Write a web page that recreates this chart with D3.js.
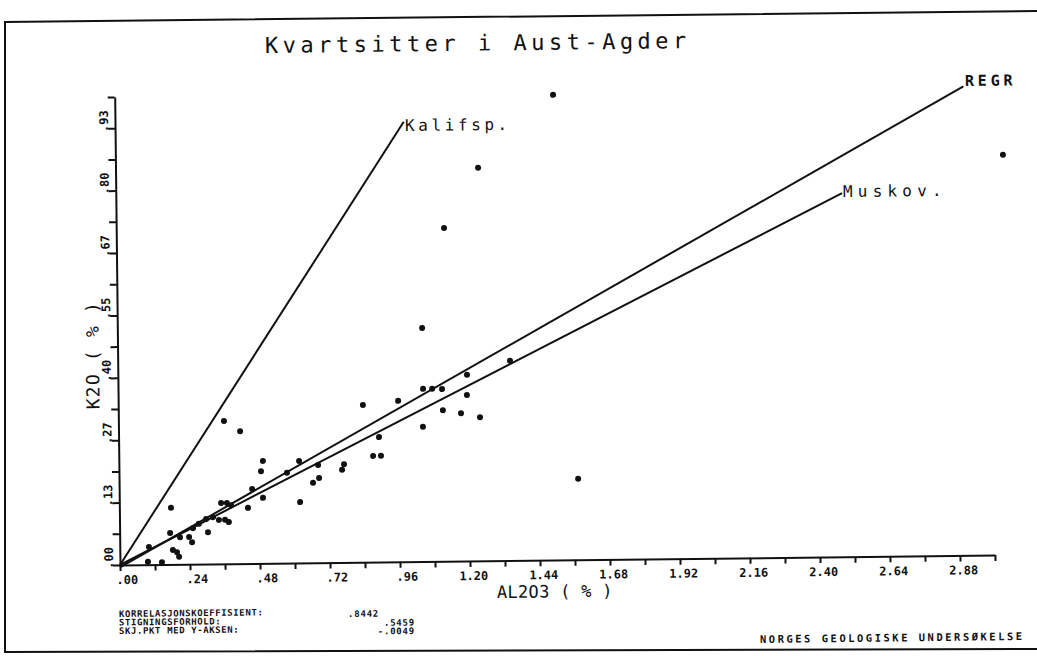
<!DOCTYPE html>
<html>
<head>
<meta charset="utf-8">
<script src="https://cdn.jsdelivr.net/npm/d3@7"></script>
<style>
  body { margin: 0; background: #fff; }
  text { font-family: "DejaVu Sans Mono", "Liberation Mono", monospace; fill: #111; }
</style>
</head>
<body>
<svg id="chart" width="1037" height="656"></svg>
<script>
// Al2O3 (%) and K2O (%) of each sample
const al2o3 = [1.503, 3.043, 1.243, 1.124, 1.045, 1.574, 1.345, 0.362, 0.417, 0.839,
  0.960, 0.893, 0.872, 0.899, 0.494, 0.487, 0.618, 0.683, 0.772, 0.765,
  0.576, 0.686, 0.665, 0.620, 0.456, 0.493, 0.441, 0.349, 0.369, 0.383,
  0.375, 0.303, 0.341, 0.362, 0.177, 0.252, 0.297, 0.272, 0.321, 0.207,
  0.238, 0.248, 0.173, 0.100, 0.182, 0.196, 0.203, 0.096, 0.144, 1.046,
  1.077, 1.111, 1.197, 1.196, 1.113, 1.175, 1.240, 1.044];
const k2o = [0.994, 0.855, 0.840, 0.712, 0.499, 0.173, 0.427, 0.305, 0.283, 0.336,
  0.344, 0.267, 0.227, 0.227, 0.219, 0.197, 0.218, 0.209, 0.210, 0.198,
  0.193, 0.181, 0.171, 0.130, 0.159, 0.140, 0.119, 0.130, 0.130, 0.125,
  0.089, 0.068, 0.094, 0.094, 0.121, 0.077, 0.096, 0.086, 0.100, 0.058,
  0.058, 0.047, 0.067, 0.038, 0.031, 0.026, 0.016, 0.006, 0.005, 0.369,
  0.369, 0.368, 0.398, 0.355, 0.323, 0.316, 0.307, 0.288];

// reference lines (end points in data units)
const kalifspEnd = [0.99, 0.94];
const muskovEnd = [2.49, 0.777];
const regrSlope = 0.346;      // as drawn
const regrIntercept = -0.0049;
const regrEndX = 2.91;

const xTickValues = [0, 0.24, 0.48, 0.72, 0.96, 1.20, 1.44, 1.68, 1.92, 2.16, 2.40, 2.64, 2.88];
const xTickLabels = [".00", ".24", ".48", ".72", ".96", "1.20", "1.44", "1.68", "1.92", "2.16", "2.40", "2.64", "2.88"];
const yTickValues = [0, 0.1333, 0.2667, 0.40, 0.5333, 0.6667, 0.80, 0.9333];
const yTickLabels = [".00", ".13", ".27", ".40", ".55", ".67", ".80", ".93"];

const statLabels = ["KORRELASJONSKOEFFISIENT:", "STIGNINGSFORHOLD:", "SKJ.PKT MED Y-AKSEN:"];
const statValues = [".8442", ".5459", "-.0049"];

const svg = d3.select("#chart");
const tilt = -0.65; // the scan is slightly rotated
const ink = "#111";

// frame of the sheet
svg.append("path")
  .attr("d", "M1037,11 L5,22 L5,652 L1037,649")
  .attr("fill", "none").attr("stroke", ink).attr("stroke-width", 2);

const x = d3.scaleLinear().domain([0, 3]).range([120, 995]);
const y = d3.scaleLinear().domain([0, 1]).range([565, 97]);

const g = svg.append("g").attr("transform", `rotate(${tilt},120,565)`);

// axes: major + minor ticks, labels drawn separately
const xAll = xTickValues.concat(xTickValues.map(v => v + 0.12));
const yAll = yTickValues.concat(yTickValues.map(v => v + 0.0667));

const xAxis = g.append("g").attr("transform", "translate(0,565)")
  .call(d3.axisBottom(x).tickValues(xAll).tickSizeInner(6).tickSizeOuter(0).tickFormat(""));
const yAxis = g.append("g").attr("transform", "translate(120,0)")
  .call(d3.axisLeft(y).tickValues(yAll).tickSizeInner(7).tickSizeOuter(0).tickFormat(""));
[xAxis, yAxis].forEach(a => {
  a.selectAll("path, line").attr("stroke", ink).attr("stroke-width", 2);
});

// tick labels: decimal point sits on the tick
const cw = 7.2;
g.selectAll(".xlab").data(xTickValues).join("text")
  .attr("class", "xlab")
  .attr("x", (d, i) => x(d) - (xTickLabels[i].indexOf(".") + 0.5) * cw)
  .attr("y", 584)
  .attr("font-size", 12).attr("font-weight", "bold")
  .text((d, i) => xTickLabels[i]);

g.selectAll(".ylab").data(yTickValues).join("text")
  .attr("class", "ylab")
  .attr("transform", (d, i) => `translate(113,${y(d) + (yTickLabels[i].indexOf(".") + 0.5) * cw}) rotate(-90)`)
  .attr("font-size", 12).attr("font-weight", "bold")
  .text((d, i) => yTickLabels[i]);

// reference lines
const line = d3.line().x(d => x(d[0])).y(d => y(d[1]));
const lines = [
  [[0, 0], kalifspEnd],
  [[0, 0], muskovEnd],
  [[0, regrIntercept], [regrEndX, regrIntercept + regrSlope * regrEndX]]
];
g.selectAll(".ref").data(lines).join("path")
  .attr("class", "ref")
  .attr("d", line)
  .attr("fill", "none").attr("stroke", ink).attr("stroke-width", 2);

// samples
g.selectAll("circle").data(al2o3).join("circle")
  .attr("cx", d => x(d))
  .attr("cy", (d, i) => y(k2o[i]))
  .attr("r", 3)
  .attr("fill", ink);

// texts (placed on screen, tilted with the scan)
function label(sx, sy, str, size, opts = {}) {
  return svg.append("text")
    .attr("transform", `translate(${sx},${sy}) rotate(${tilt + (opts.rot || 0)})`)
    .attr("font-size", size)
    .attr("font-weight", opts.bold ? "bold" : "normal")
    .attr("letter-spacing", opts.ls || 0)
    .attr("text-anchor", opts.anchor || "start")
    .text(str);
}

label(265, 53, "Kvartsitter i Aust-Agder", 22, { ls: 4.5 });
label(405, 131, "Kalifsp.", 16, { ls: 3.6 });
label(843, 197, "Muskov.", 16, { ls: 5.2 });
label(965, 86, "REGR", 15, { bold: true, ls: 3.8 });
label(497, 598, "AL2O3 ( % )", 17, { ls: 0.3 });
label(99, 355, "K2O ( % )", 18, { rot: -90, anchor: "middle", ls: 1.2 });

[617, 625.5, 634].forEach((yy, i) => {
  label(119, yy, statLabels[i], 9, { bold: true, ls: 0.6 });
});
label(348, 617, statValues[0], 9, { bold: true, ls: 0.8 });
label(415, 625.5, statValues[1], 9, { bold: true, ls: 0.8, anchor: "end" });
label(415, 634, statValues[2], 9, { bold: true, ls: 0.8, anchor: "end" });

label(760, 643, "NORGES GEOLOGISKE UNDERSØKELSE", 10.5, { bold: true, ls: 2.5 });
</script>
</body>
</html>
